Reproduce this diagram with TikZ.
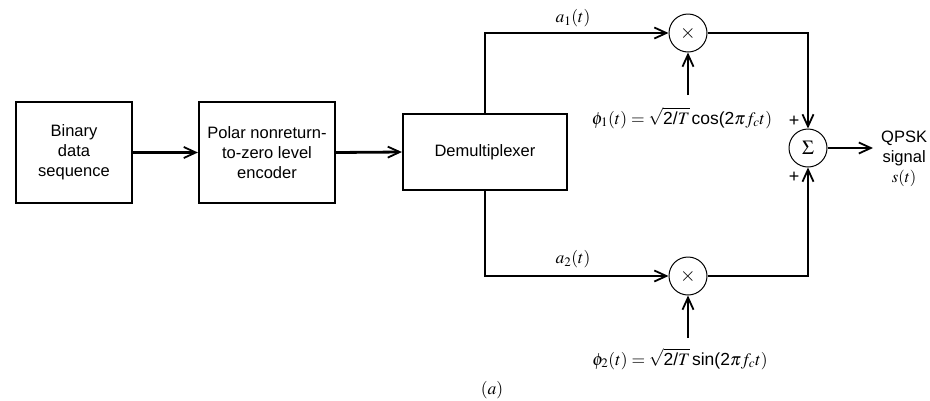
\documentclass[tikz,border=0pt]{standalone}
\usepackage{mathptmx}
\usepackage{fontspec}
\setmainfont{Liberation Sans}
\usetikzlibrary{arrows.meta}

\tikzset{
  blk/.style={draw, line width=2.2pt, align=center, font=\fontsize{16.5}{20}\selectfont, inner sep=0pt},
  op/.style={draw, circle, line width=1pt, minimum size=38pt, inner sep=0pt, font=\fontsize{20}{20}\selectfont},
  sig/.style={line width=2.8pt, -{Straight Barb[length=12pt,width=11pt,line width=1.8pt]}},
  lbl/.style={font=\fontsize{16.5}{20}\selectfont, inner sep=0pt, align=center},
  mlbl/.style={font=\fontsize{17.5}{20}\selectfont, inner sep=0pt},
  pm/.style={font=\fontsize{18}{18}\selectfont, inner sep=0pt},
}

\begin{document}
\begin{tikzpicture}[x=1pt,y=-1pt]
  \useasboundingbox (0,0) rectangle (930,400);

  % blocks
  \node[blk, minimum width=116pt, minimum height=101pt] (src) at (74,152.5) {Binary\\data\\sequence};
  \node[blk, minimum width=136pt, minimum height=101pt] (enc) at (267,152.5) {Polar nonreturn-\\to-zero level\\encoder};
  \node[blk, minimum width=164pt, minimum height=76pt] (dmx) at (485,152) {Demultiplexer};

  % multipliers and summer
  \node[op] (m1) at (688,33) {$\times$};
  \node[op] (m2) at (688,276) {$\times$};
  \node[op] (sum) at (808,148) {$\Sigma$};

  % carrier inputs
  \coordinate (c1) at (688,95);
  \coordinate (c2) at (688,338);
  \node[mlbl] (phi1) at (682,118) {$\phi_1(t) = \sqrt{\mbox{2/}T}\,\mbox{cos(2}\pi f_c t)$};
  \node[mlbl] (phi2) at (680,359) {$\phi_2(t) = \sqrt{\mbox{2/}T}\,\mbox{sin(2}\pi f_c t)$};

  % output
  \node[lbl, anchor=west] (out) at (881,159) {QPSK\\signal\\$s(t)$};

  % labels
  \node[mlbl] (la1) at (573,18) {$a_1(t)$};
  \node[mlbl] (la2) at (573,259) {$a_2(t)$};
  \node[pm] (pl1) at (794,121) {+};
  \node[pm] (pl2) at (794,177) {+};
  \node[mlbl] (cap) at (492,390) {$(a)$};

  % connections
  \draw[sig] (src.east) -- (enc.west);
  \draw[sig] (enc.east) -- (dmx.west);
  \draw[sig] (dmx.north) |- (m1.west);
  \draw[sig] (dmx.south) |- (m2.west);
  \draw[sig] (c1) -- (m1.south);
  \draw[sig] (c2) -- (m2.south);
  \draw[sig] (m1.east) -| (sum.north);
  \draw[sig] (m2.east) -| (sum.south);
  \draw[sig] (sum.east) -- ([xshift=-8pt]out.west |- sum.east);
\end{tikzpicture}
\end{document}
